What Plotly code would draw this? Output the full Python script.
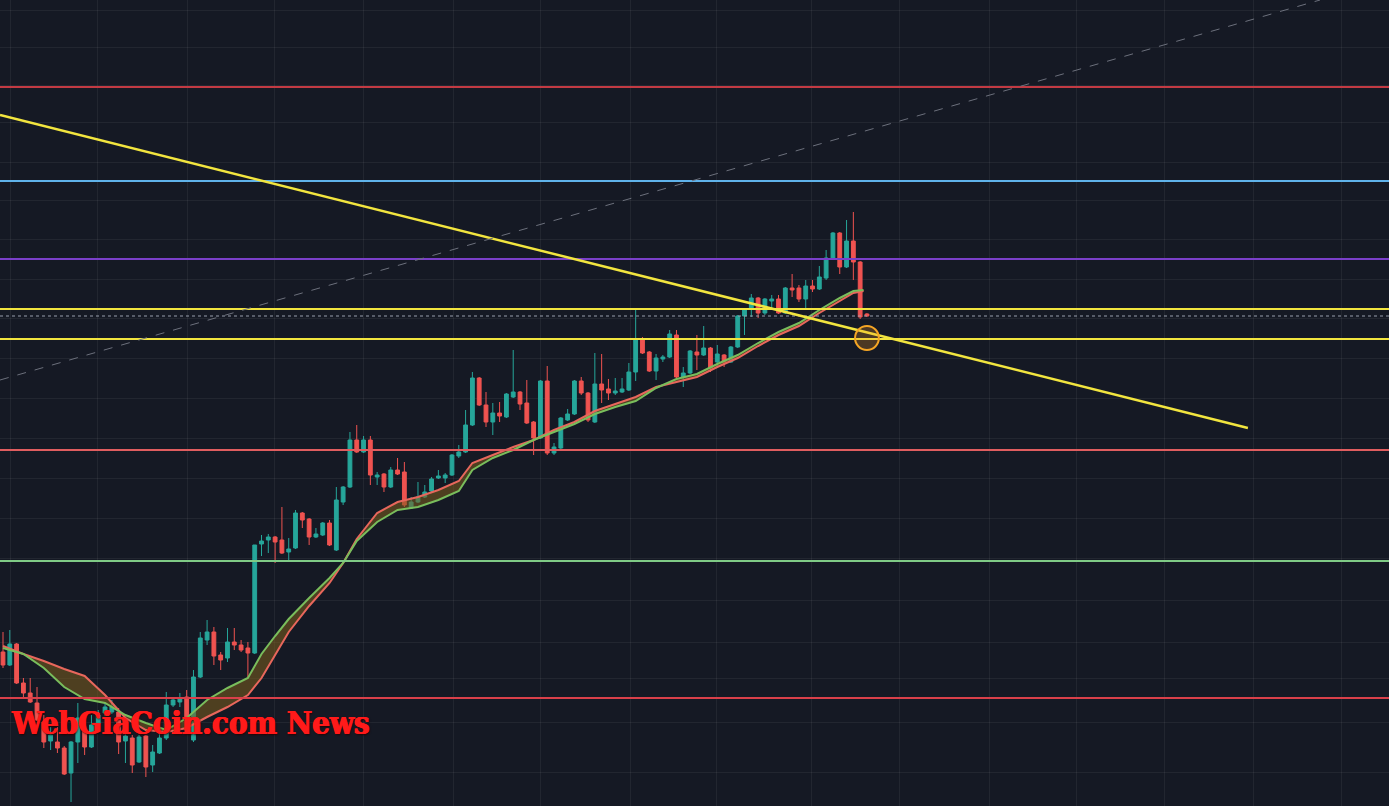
import plotly.graph_objects as go

# ---------------- data ----------------
opens = [154,141,162,123,113,103,84,65,64,58,33,64,77,59,83,93,94,94,65,68,
         44,70,41,53,68,101,104,109,66,129,166,174,151,148,164,161,158,153,262,266,
         269,266,254,258,293,287,269,271,283,256,304,319,366,354,366,329,332,319,336,334,
         298,304,309,315,328,328,331,350,354,381,428,401,384,393,389,409,414,403,384,368,
         425,353,358,386,392,425,413,384,422,417,413,414,416,434,466,454,435,447,449,471,
         429,433,454,451,458,444,451,444,459,490,497,508,493,505,507,493,518,518,507,520,
         517,528,548,573,539,565,544,492]
highs = [174,176,163,128,128,119,91,79,79,60,65,103,85,91,96,103,106,98,76,71,
         71,71,61,73,114,109,113,116,136,174,186,179,154,178,178,166,164,261,271,272,
         270,299,268,296,294,288,278,284,286,319,320,374,381,370,370,334,333,339,348,344,
         309,324,321,329,336,333,352,361,396,434,429,414,403,404,413,456,415,426,385,426,
         440,363,389,397,426,429,414,453,452,427,428,428,443,497,469,455,452,451,476,476,
         439,456,471,480,459,461,452,460,491,498,512,509,508,511,511,519,532,521,526,526,
         540,556,574,574,586,594,545,493]
lows = [138,140,122,108,103,85,58,56,53,31,4,43,51,58,78,90,92,52,43,33,
        43,29,34,52,66,99,99,73,64,128,161,141,136,144,156,154,129,152,250,253,
        243,252,246,257,278,261,268,270,260,255,301,318,353,353,321,321,314,318,331,299,
        297,303,308,314,327,323,330,348,353,380,400,379,371,384,388,408,396,382,351,367,
        351,351,357,385,391,411,384,383,403,406,411,413,415,425,452,434,426,444,448,426,
        419,432,436,450,434,439,439,443,458,471,489,488,491,497,492,492,509,504,498,514,
        516,526,547,532,538,526,487,489]
closes = [141,162,123,113,104,86,64,71,58,32,64,88,59,81,91,99,99,64,70,41,
          69,39,54,68,101,106,108,76,129,168,174,150,146,164,161,156,153,261,265,269,
          264,253,257,293,286,269,272,283,261,306,319,366,354,366,331,331,319,336,332,301,
          304,309,314,327,330,331,351,354,381,428,401,384,393,390,412,414,402,383,368,425,
          353,359,388,392,425,413,386,422,416,413,415,417,434,466,453,435,448,449,472,429,
          433,455,451,458,438,452,444,459,490,497,508,493,507,507,493,518,516,507,520,517,
          529,548,573,539,565,544,489,490]

# two moving averages (sampled at candle index positions)
ma_idx = [0,3,6,9,12,15,18,21,24,27,30,33,36,38,40,42,45,48,50,52,55,58,61,64,67,69,
          72,75,78,81,84,87,90,93,96,99,102,105,108,111,114,117,120,123,125,126.5]
ma_red = [160,152,145,137,130,111,88,76,74,78,89,99,111,128,151,174,200,223,243,267,293,304,309,316,325,343,
          351,359,366,376,384,395,402,409,419,424,429,439,448,460,471,480,493,505,513,515]
ma_green = [158,152,138,119,107,103,91,83,76,88,106,118,128,152,170,187,208,228,243,265,284,296,299,306,315,336,
            348,356,366,374,382,392,399,405,418,427,432,442,451,463,474,483,496,508,515,516]

# horizontal price levels
level_prices = [719, 625, 547, 497, 467, 356, 245, 108]
level_colors = ["#c23a43", "#5fb2ea", "#7a3fc9", "#f2e53f", "#f2e53f", "#e05d5f", "#7fcb86", "#d9404a"]
last_price = 490

# drawings
trend_pts = [(-0.44, 691), (183.0, 378)]
dashed_pts = [(-0.44, 426), (193.6, 806)]
circle_center = (127.0, 468)

grid_x = [1.03, 13.96, 27.05, 39.98, 52.92, 66.15, 78.94, 92.17, 104.95, 118.92,
          131.85, 144.94, 157.87, 170.81, 183.89, 196.83]
grid_y = [796, 759, 721, 684, 644, 606, 567, 527, 488, 448, 408, 368, 328, 288, 248, 206, 164, 128, 84, 34]

idx = list(range(len(opens)))

BG = "#151924"
fig = go.Figure()

fig.add_trace(go.Scatter(x=ma_idx, y=ma_red, mode="lines",
                         line=dict(color="#e8675c", width=2), hoverinfo="skip"))
fig.add_trace(go.Scatter(x=ma_idx, y=ma_green, mode="lines",
                         line=dict(color="#79bd5c", width=2), fill="tonexty",
                         fillcolor="rgba(125,95,30,0.55)", hoverinfo="skip"))

fig.add_trace(go.Candlestick(
    x=idx, open=opens, high=highs, low=lows, close=closes,
    increasing=dict(line=dict(color="#26a69a", width=1), fillcolor="#26a69a"),
    decreasing=dict(line=dict(color="#ef5350", width=1), fillcolor="#ef5350"),
    whiskerwidth=0, hoverinfo="skip"))

shapes = []
for p, c in zip(level_prices, level_colors):
    shapes.append(dict(type="line", xref="paper", x0=0, x1=1, yref="y", y0=p, y1=p,
                       line=dict(color=c, width=2)))
shapes.append(dict(type="line", xref="paper", x0=0, x1=1, yref="y", y0=last_price, y1=last_price,
                   line=dict(color="#9aa0ad", width=1, dash="dot")))
shapes.append(dict(type="line", x0=trend_pts[0][0], y0=trend_pts[0][1], x1=trend_pts[1][0], y1=trend_pts[1][1],
                   line=dict(color="#f2e53f", width=2.5)))
shapes.append(dict(type="line", x0=dashed_pts[0][0], y0=dashed_pts[0][1], x1=dashed_pts[1][0], y1=dashed_pts[1][1],
                   line=dict(color="#6c707c", width=1, dash="dash")))
cx, cy = circle_center
shapes.append(dict(type="circle", x0=cx - 1.75, x1=cx + 1.75, y0=cy - 12, y1=cy + 12,
                   line=dict(color="#f5a524", width=2), fillcolor="rgba(245,150,30,0.25)"))

fig.update_layout(
    width=1389, height=806, margin=dict(l=0, r=0, t=0, b=0),
    paper_bgcolor=BG, plot_bgcolor=BG, showlegend=False, hovermode=False,
    boxgap=0.2,
    shapes=shapes,
    xaxis=dict(range=[-0.441, 203.74], showticklabels=False, tickvals=grid_x,
               showgrid=True, gridcolor="rgba(255,255,255,0.06)", zeroline=False,
               rangeslider=dict(visible=False), fixedrange=True),
    yaxis=dict(range=[0, 806], showticklabels=False, tickvals=grid_y,
               showgrid=True, gridcolor="rgba(255,255,255,0.06)", zeroline=False, fixedrange=True),
    annotations=[dict(text="<b>WebGiaCoin.com News</b>", xref="paper", yref="y",
                      x=9 / 1389, y=83, xanchor="left", yanchor="middle", showarrow=False,
                      font=dict(family="DejaVu Serif Condensed, DejaVu Serif", size=31, color="#ff1a1a",
                                shadow="0.6px 0 0 #ff1a1a, -0.6px 0 0 #ff1a1a, 1px 1px 2px #2a0000"))],
)

fig.write_html("out.html", config={"displayModeBar": False})
